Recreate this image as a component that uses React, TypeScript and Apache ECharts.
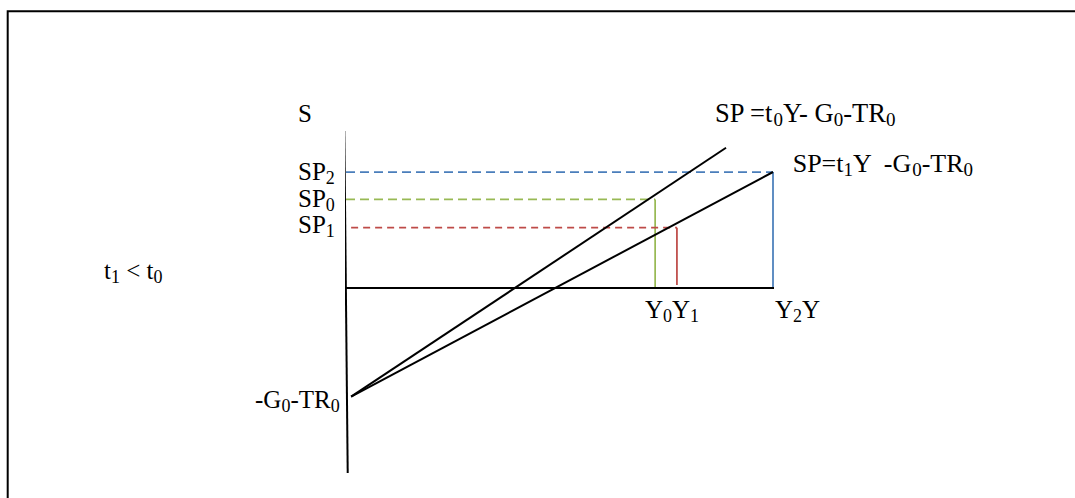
import { useEffect, useRef } from "react";
import * as echarts from "echarts";

// Income levels on the horizontal axis (Y2, Y0, Y1) and the matching surplus levels (SP2, SP0, SP1)
const levelNames = ["2", "0", "1"];
const incomeLevels = [100, 72.4, 77.5];
const surplusLevels = [100, 76.3, 52];
const guideStartIncome = [0, 0, 1.2];
const dropFloor = [0, 0, 2.6];

// Budget surplus schedules: both start at the intercept -G0-TR0
const interceptPoint = [1.2, -93.7];
const scheduleT0End = [89, 120.9];
const scheduleT1End = [100, 100];

// Axis lines (S axis is drawn slightly tilted, Y axis is horizontal)
const sAxisEnds = [
  [-0.4, 135.3],
  [0.4, -159.5],
];
const yAxisEnds = [
  [0, 0],
  [102.6, 0],
];

const guideColors = ["#4a7ebb", "#98b954", "#be4b48"];
const guideDashes = [
  [9, 5],
  [9, 5],
  [7, 5],
];

const FONT = "'Liberation Serif', 'Times New Roman', serif";

function makeRich(size: number, subSize: number) {
  return {
    m: { fontFamily: FONT, fontSize: size, lineHeight: 30, fill: "#000" },
    s: {
      fontFamily: FONT,
      fontSize: subSize,
      lineHeight: subSize,
      padding: [13, 0, 0, 0],
      fill: "#000",
    },
  };
}

function label(x: number, y: number, text: string, size = 25, subSize = 18) {
  return {
    type: "text",
    x,
    y,
    silent: true,
    style: {
      text,
      fontFamily: FONT,
      fontSize: size,
      lineHeight: 30,
      fill: "#000",
      align: "left",
      verticalAlign: "top",
      rich: makeRich(size, subSize),
    },
  };
}

export default function App() {
  const ref = useRef<HTMLDivElement>(null);

  useEffect(() => {
    if (!ref.current) return;
    const chart = echarts.init(ref.current, undefined, { renderer: "svg" });

    const base = {
      type: "line",
      symbol: "none",
      clip: false,
      silent: true,
      animation: false,
    };

    const series: any[] = [
      { ...base, data: sAxisEnds, lineStyle: { color: "#000", width: 2 }, z: 3 },
      { ...base, data: yAxisEnds, lineStyle: { color: "#000", width: 2 }, z: 3 },
      {
        ...base,
        data: [interceptPoint, scheduleT0End],
        lineStyle: { color: "#000", width: 2 },
        z: 4,
      },
      {
        ...base,
        data: [interceptPoint, scheduleT1End],
        lineStyle: { color: "#000", width: 2 },
        z: 4,
      },
    ];

    incomeLevels.forEach((inc, i) => {
      const sp = surplusLevels[i];
      series.push({
        ...base,
        data: [
          [guideStartIncome[i], sp],
          [inc, sp],
        ],
        lineStyle: { color: guideColors[i], width: 1.75, type: guideDashes[i] },
        z: 2,
      });
      series.push({
        ...base,
        data: [
          [inc, sp],
          [inc, dropFloor[i]],
        ],
        lineStyle: { color: guideColors[i], width: 1.75 },
        z: 2,
      });
    });

    const sub = (n: string) => `{s|${n}}`;

    chart.setOption({
      animation: false,
      backgroundColor: "#fff",
      grid: { left: 346, right: 302, top: 172, bottom: 210 },
      xAxis: { type: "value", min: 0, max: 100, show: false },
      yAxis: { type: "value", min: 0, max: 100, show: false },
      series,
      graphic: [
        {
          type: "polyline",
          silent: true,
          shape: {
            points: [
              [7.7, 498],
              [7.7, 11.3],
              [1075, 11.3],
            ],
          },
          style: { stroke: "#000", lineWidth: 2, fill: null },
        },
        label(298, 98.6, "{m|S}"),
        label(298, 156.6, `{m|SP}${sub(levelNames[0])}`),
        label(298, 183.6, `{m|SP}${sub(levelNames[1])}`),
        label(298, 209.6, `{m|SP}${sub(levelNames[2])}`),
        label(104, 255.6, `{m|t}${sub("1")}{m| < t}${sub("0")}`),
        label(255, 384.9, `{m|-G}${sub("0")}{m|-TR}${sub("0")}`),
        label(
          715,
          98,
          `{m|SP =t}${sub("0")}{m|Y- G}${sub("0")}{m|-TR}${sub("0")}`,
          26.5,
          19
        ),
        label(
          792.7,
          148,
          `{m|SP=t}${sub("1")}{m|Y  -G}${sub("0")}{m|-TR}${sub("0")}`,
          26,
          19
        ),
        label(645, 294.6, `{m|Y}${sub(levelNames[1])}{m|Y}${sub(levelNames[2])}`),
        label(775, 294.6, `{m|Y}${sub(levelNames[0])}{m|Y}`),
      ],
    });

    return () => chart.dispose();
  }, []);

  return (
    <div
      ref={ref}
      style={{ position: "fixed", left: 0, top: 0, width: 1075, height: 498 }}
    />
  );
}
